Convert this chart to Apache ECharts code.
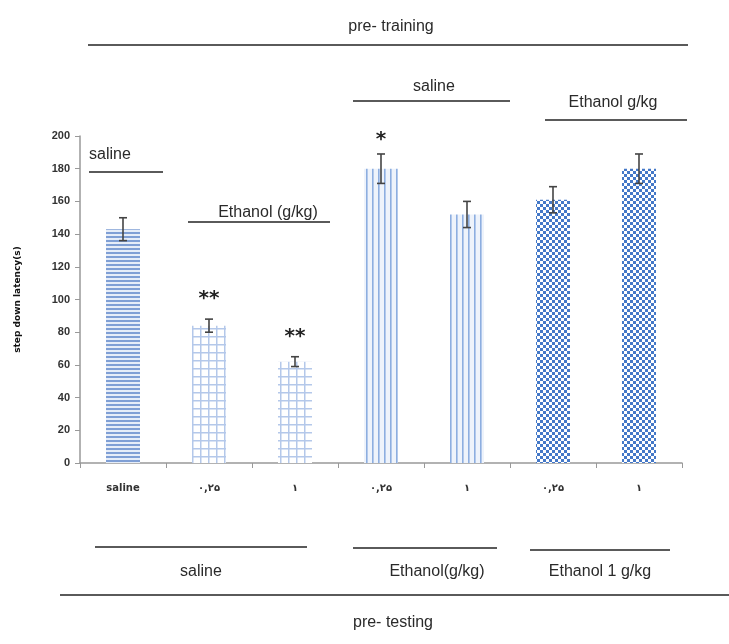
<!DOCTYPE html>
<html>
<head>
<meta charset="utf-8">
<script src="https://cdn.jsdelivr.net/npm/echarts@6/dist/echarts.min.js"></script>
<style>
  html, body { margin: 0; padding: 0; background: #fff; }
  #chart { width: 729px; height: 644px; }
</style>
</head>
<body>
<div id="chart"></div>
<script>
// data
var groups = ['saline', '۰,۲۵', '۱', '۰,۲۵', '۱', '۰,۲۵', '۱']
var latency = [143, 84, 62, 180, 152, 161, 180]
var sem = [7, 4, 3, 9, 8, 8, 9]
var stars = ['', '**', '**', '*', '', '', '']

function makePattern(w, h, draw) {
  var c = document.createElement('canvas')
  c.width = w
  c.height = h
  draw(c.getContext('2d'))
  return { image: c, repeat: 'repeat' }
}

// horizontal stripes
var hLines = makePattern(4, 4, function (ctx) {
  ctx.fillStyle = '#e6edf8'
  ctx.fillRect(0, 0, 4, 4)
  ctx.fillStyle = '#7f9fd5'
  ctx.fillRect(0, 0, 4, 2)
})
// light grid
var grid = makePattern(8, 8, function (ctx) {
  ctx.fillStyle = '#ffffff'
  ctx.fillRect(0, 0, 8, 8)
  ctx.fillStyle = '#b4c8ea'
  ctx.fillRect(0, 0, 8, 1.5)
  ctx.fillRect(0, 0, 1.5, 8)
})
// vertical stripes
var vLines = makePattern(6, 6, function (ctx) {
  ctx.fillStyle = '#eef3fb'
  ctx.fillRect(0, 0, 6, 6)
  ctx.fillStyle = '#8daee0'
  ctx.fillRect(0, 0, 1.6, 6)
})
// checker
var checker = makePattern(6, 6, function (ctx) {
  ctx.fillStyle = '#ffffff'
  ctx.fillRect(0, 0, 6, 6)
  ctx.fillStyle = '#4478c8'
  ctx.fillRect(0, 0, 3, 3)
  ctx.fillRect(3, 3, 3, 3)
})
var fills = [hLines, grid, grid, vLines, vLines, checker, checker]

var chart = echarts.init(document.getElementById('chart'))

var txt = function (x, y, s, align) {
  return {
    type: 'text', x: x, y: y,
    style: { text: s, font: '16px "Liberation Sans Narrow", "Liberation Sans", Arial', fill: '#2a2a2a', textAlign: align || 'center', textVerticalAlign: 'middle' }
  }
}
var line = function (x1, x2, y) {
  return {
    type: 'line', shape: { x1: x1, y1: y, x2: x2, y2: y },
    style: { stroke: '#5a5a5a', lineWidth: 2 }
  }
}

chart.setOption({
  animation: false,
  grid: { left: 80, right: 47, top: 136, bottom: 181 },
  xAxis: {
    type: 'category',
    data: groups,
    axisLine: { lineStyle: { color: '#999', width: 1.5 } },
    axisTick: { show: true, lineStyle: { color: '#999' } },
    axisLabel: { color: '#333', fontSize: 10, fontWeight: 'bold', margin: 20, fontFamily: 'DejaVu Sans' }
  },
  yAxis: {
    type: 'value',
    min: 0,
    max: 200,
    interval: 20,
    name: 'step down latency(s)',
    nameLocation: 'middle',
    nameGap: 58,
    nameTextStyle: { color: '#111', fontSize: 9, fontWeight: 'bold', fontFamily: 'DejaVu Sans' },
    splitLine: { show: false },
    axisLine: { show: true, lineStyle: { color: '#999', width: 1.5 } },
    axisTick: { show: true, lineStyle: { color: '#999' } },
    axisLabel: { color: '#333', fontSize: 11, fontWeight: 'bold', margin: 10 }
  },
  series: [
    {
      type: 'bar',
      barWidth: 34,
      data: latency.map(function (v, i) {
        return { value: v, itemStyle: { color: fills[i] } }
      })
    },
    {
      type: 'custom',
      z: 5,
      data: latency.map(function (v, i) { return [i, v, sem[i], stars[i]] }),
      renderItem: function (params, api) {
        var x = api.value(0)
        var hi = api.coord([x, api.value(1) + api.value(2)])
        var lo = api.coord([x, api.value(1) - api.value(2)])
        var cap = 4
        var st = { stroke: '#444', lineWidth: 1.6 }
        var children = [
          { type: 'line', shape: { x1: hi[0], y1: hi[1], x2: lo[0], y2: lo[1] }, style: st },
          { type: 'line', shape: { x1: hi[0] - cap, y1: hi[1], x2: hi[0] + cap, y2: hi[1] }, style: st },
          { type: 'line', shape: { x1: lo[0] - cap, y1: lo[1], x2: lo[0] + cap, y2: lo[1] }, style: st }
        ]
        var s = api.value(3)
        if (s) {
          children.push({
            type: 'text', x: hi[0], y: hi[1] - (s.length > 1 ? 20 : 14),
            style: { text: s, font: 'bold 20px "DejaVu Sans"', fill: '#222', textAlign: 'center', textVerticalAlign: 'middle' }
          })
        }
        return { type: 'group', children: children }
      }
    }
  ],
  graphic: [
    txt(391, 27, 'pre- training'),
    line(88, 688, 45),
    txt(434, 87, 'saline'),
    line(353, 510, 101),
    txt(613, 103, 'Ethanol g/kg'),
    line(545, 687, 120),
    txt(89, 155, 'saline', 'left'),
    line(89, 163, 172),
    txt(268, 213, 'Ethanol (g/kg)'),
    line(188, 330, 222),
    line(95, 307, 547),
    txt(201, 572, 'saline'),
    line(353, 497, 548),
    txt(437, 572, 'Ethanol(g/kg)'),
    line(530, 670, 550),
    txt(600, 572, 'Ethanol 1 g/kg'),
    line(60, 729, 595),
    txt(393, 623, 'pre- testing')
  ]
})
</script>
</body>
</html>
